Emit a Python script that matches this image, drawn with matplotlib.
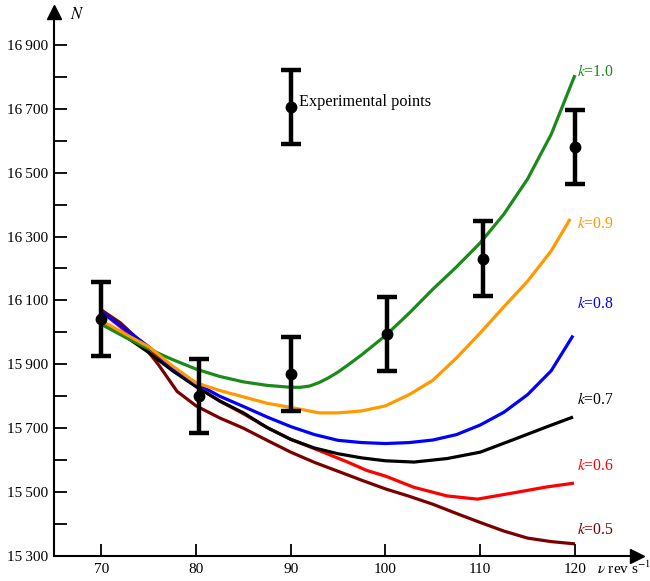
import matplotlib
matplotlib.use("Agg")
import matplotlib.pyplot as plt
import numpy as np

plt.rcParams['font.family'] = ['Liberation Serif', 'DejaVu Serif']
plt.rcParams['mathtext.fontset'] = 'stix'

# Experimental points
exp_v = [70, 80.3, 90, 100.2, 110.3, 120]
exp_N = [16042, 15801, 15870, 15995, 16230, 16580]
exp_err = [116, 116, 116, 116, 117, 115]

# Model curves (k values)
v_10 = [70, 72.5, 75, 77.5, 80, 82.5, 85, 87.5, 90, 91, 92, 93, 94, 95, 96, 97.5, 100, 102.5, 105, 107.5, 110, 112.5, 115, 117.5, 120]
N_10 = [16025, 15985, 15948, 15915, 15885, 15862, 15845, 15834, 15828, 15828, 15832, 15843, 15858, 15876, 15897, 15930, 15990, 16060, 16135, 16205, 16280, 16370, 16480, 16620, 16805]

v_09 = [69.5, 72.5, 75, 77.5, 80, 82.5, 85, 87.5, 90, 93, 95, 97.5, 100, 102.5, 105, 107.5, 110, 112.5, 115, 117.5, 119.5]
N_09 = [16045, 15995, 15955, 15895, 15842, 15818, 15798, 15778, 15765, 15748, 15748, 15754, 15770, 15805, 15850, 15920, 15998, 16080, 16160, 16255, 16355]

v_08 = [70, 72.5, 75, 77.5, 80, 82.5, 85, 87.5, 90, 92.5, 95, 97.5, 100, 102.5, 105, 107.5, 110, 112.5, 115, 117.5, 119.8]
N_08 = [16065, 16010, 15955, 15890, 15840, 15800, 15768, 15735, 15705, 15680, 15662, 15655, 15652, 15655, 15663, 15680, 15710, 15750, 15805, 15880, 15990]

v_07 = [70, 72.5, 75, 77.5, 80, 82.5, 85, 87.5, 90, 92.5, 95, 97.5, 100, 103, 106.5, 110, 113.4, 117, 119.8]
N_07 = [16035, 15988, 15937, 15880, 15830, 15785, 15748, 15702, 15665, 15638, 15620, 15607, 15598, 15594, 15605, 15625, 15663, 15704, 15735]

v_06 = [70, 72.5, 75, 77.5, 80, 82.5, 85, 87.5, 90, 93, 96, 98, 100, 103, 106.5, 109.7, 113.4, 117, 119.9]
N_06 = [16065, 16005, 15950, 15888, 15832, 15785, 15745, 15702, 15665, 15630, 15594, 15568, 15550, 15515, 15488, 15478, 15497, 15516, 15528]

v_05 = [70, 72, 74, 76, 78, 80, 82.5, 85, 87.5, 90, 92.5, 95, 97.5, 100, 102.5, 105, 107.5, 110, 112.5, 115, 117.5, 120]
N_05 = [16070, 16030, 15975, 15900, 15815, 15770, 15732, 15700, 15662, 15625, 15593, 15565, 15537, 15510, 15487, 15462, 15433, 15405, 15378, 15356, 15345, 15338]

curves = [
    (v_05, N_05, '#7a0000', 1, 'k=0.5', 15381),
    (v_06, N_06, '#ff0000', 2, 'k=0.6', 15582),
    (v_07, N_07, '#000000', 3, 'k=0.7', 15788),
    (v_10, N_10, '#1a8a1a', 3.5, 'k=1.0', 16815),
    (v_08, N_08, '#0000ff', 4, 'k=0.8', 16089),
    (v_09, N_09, '#ff9900', 5, 'k=0.9', 16339),
]

fig = plt.figure(figsize=(6.5, 5.81), dpi=100)
ax = fig.add_axes([54/650, 25/581, (637-54)/650, (556-12)/581])
x0, x1 = 65.0, 70 + (637-102)/9.46
y0, y1 = 15300, 15300 + (556-12)/0.3195
ax.set_xlim(x0, x1)
ax.set_ylim(y0, y1)

for v, N, c, z, lab, ly in curves:
    ax.plot(v, N, color=c, lw=2.3, zorder=z, solid_capstyle='butt', solid_joinstyle='round')
    kval = lab.split('=')[1]
    ax.text(120.25, ly, r'$k$=' + kval, color=c, fontsize=11.3, ha='left', va='center')

ax.errorbar(exp_v, exp_N, yerr=exp_err, fmt='o', color='black', ms=7.5,
            elinewidth=3.2, capsize=7, capthick=3.2, zorder=10)
# legend sample
ax.errorbar([90], [16705], yerr=[116], fmt='o', color='black', ms=7.5,
            elinewidth=3.2, capsize=7, capthick=3.2, zorder=10)
ax.text(90.9, 16721, 'Experimental points', fontsize=11.7, ha='left', va='center')

# spines and arrows
for s in ['top', 'right']:
    ax.spines[s].set_visible(False)
ax.spines['left'].set_linewidth(1.5)
ax.spines['bottom'].set_linewidth(1.5)
ax.plot([x0], [y1], marker='^', color='black', ms=10, clip_on=False, zorder=20)
ax.plot([x1], [y0], marker='>', color='black', ms=10, clip_on=False, zorder=20)

yt = np.arange(15300, 16901, 100)
ax.set_yticks(yt)
ax.set_yticklabels([f"{t//1000}\u2009{t%1000:03d}" if (t-15300) % 200 == 0 else '' for t in yt])
ax.set_xticks([70, 80, 90, 100, 110, 120])
ax.set_xticklabels(['70', '80', '90', '100', '110', '120'])
ax.tick_params(axis='both', direction='in', length=9, width=1.3, labelsize=11, pad=5)
ax.tick_params(axis='y', pad=4)

ax.text(66.7, 16993, r'$N$', fontsize=12, ha='left', va='center')
ax.text(122.3, -0.022, r'$\nu$ rev s$^{-1}$', fontsize=11, ha='left', va='center',
        transform=ax.get_xaxis_transform(), clip_on=False)

fig.savefig('out.png', dpi=100)
